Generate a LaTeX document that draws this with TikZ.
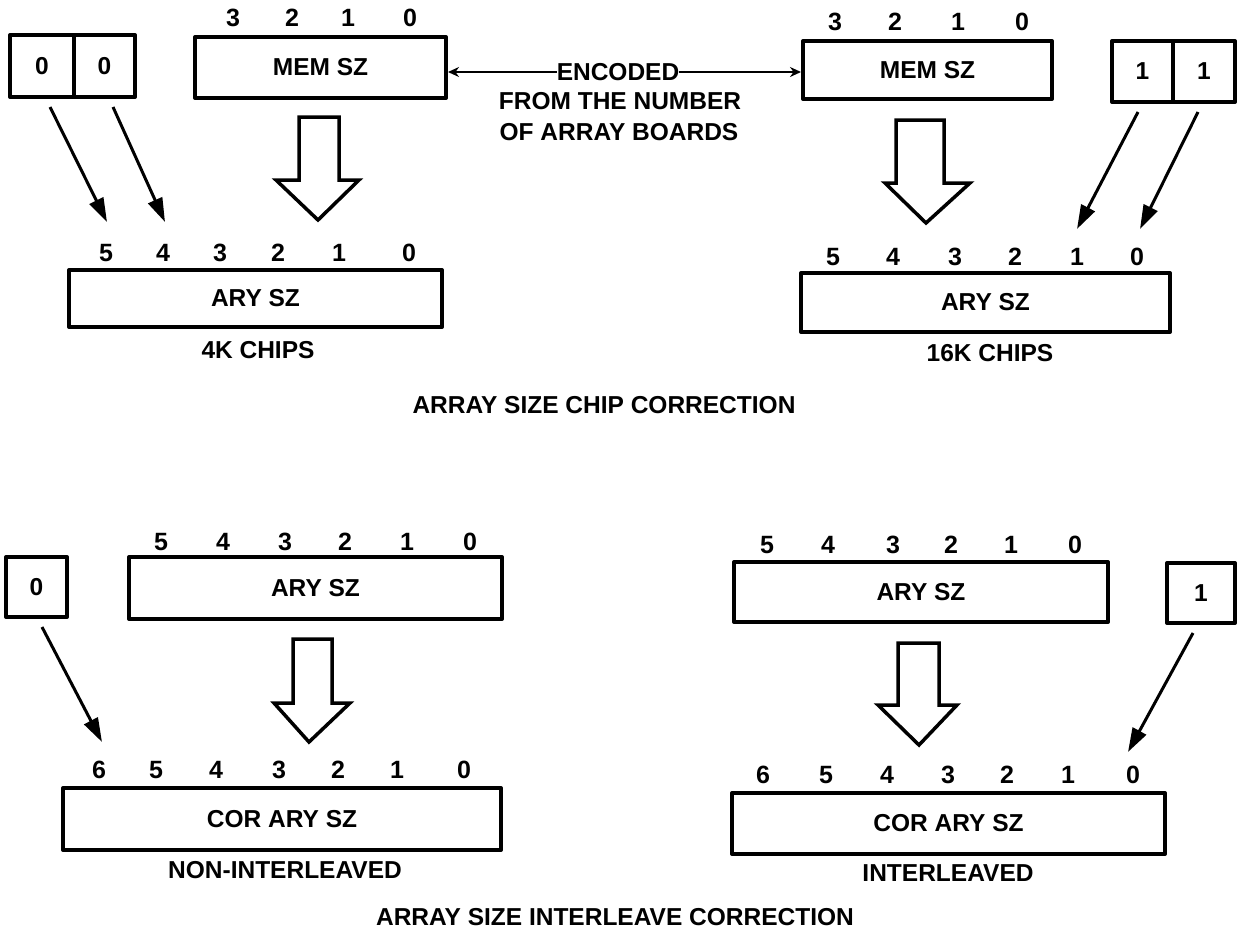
\documentclass[tikz,border=0pt]{standalone}
\usepackage{fontspec}
\setmainfont{Liberation Sans}
\usetikzlibrary{arrows.meta,calc}
\newcommand\lblfont{\fontsize{24.5}{28}\selectfont\bfseries}
\newcommand\digfont{\fontsize{25}{29}\selectfont\bfseries}
\begin{document}
\begin{tikzpicture}[x=1pt,y=-1pt,
  reg/.style={draw,line width=4pt,inner sep=0pt,font=\lblfont,line join=round},
  dig/.style={inner sep=0pt,font=\digfont},
  lab/.style={inner sep=0pt,font=\lblfont},
  arr/.style={line width=3pt,-{Triangle[length=24pt,width=15pt]}},
  encarr/.style={line width=2.5pt,-{Stealth[length=11pt,width=10pt]}},
  hollow/.style={draw,line width=3.5pt,line join=miter,fill=white}]
\useasboundingbox (0,0) rectangle (1237,930);

% ---------- top left ----------
\node[reg,minimum width=64,minimum height=62] (z1) at (42,66) {0};
\node[reg,minimum width=61,minimum height=62] (z2) at (104.5,66) {0};
\node[reg,minimum width=251,minimum height=61] (memL) at (320.5,67.5) {MEM SZ};
\foreach \n/\x in {3/233,2/292,1/348,0/410} \node[dig] (mL\n) at (\x,18) {\n};

\draw[hollow] (299,117) -- (339,117) -- (339,180) -- (359,180) -- (318,220) -- (276,180) -- (299,180) -- cycle;

\node[reg,minimum width=373,minimum height=57] (aryL) at (255.5,298.5) {ARY SZ};
\foreach \n/\x in {5/106,4/163,3/220,2/278,1/339,0/409} \node[dig] (aL\n) at (\x,253) {\n};
\node[lab] (chip4) at (258,350) {4K CHIPS};

\coordinate (s1) at (50,107); \coordinate (e1) at (107,222);
\coordinate (s2) at (113,107); \coordinate (e2) at (165,222);
\draw[arr] (s1) -- (e1);
\draw[arr] (s2) -- (e2);

% ---------- encoded ----------
\node[lab] (enc) at (618,72) {ENCODED};
\node[lab] (enc2) at (620,101) {FROM THE NUMBER};
\node[lab] (enc3) at (619,132) {OF ARRAY BOARDS};

% ---------- top right ----------
\node[reg,minimum width=249,minimum height=58] (memR) at (927.5,70) {MEM SZ};
\foreach \n/\x in {3/835,2/895,1/958,0/1022} \node[dig] (mR\n) at (\x,22) {\n};
\node[reg,minimum width=61,minimum height=61] (o1) at (1142.5,71.5) {1};
\node[reg,minimum width=62,minimum height=61] (o2) at (1204,71.5) {1};

\draw[encarr] (enc.west) -- (enc.west -| memL.east);
\draw[encarr] (enc.east) -- (enc.east -| memR.west);

\draw[hollow] (896,120) -- (944,120) -- (944,183) -- (970,183) -- (926,223) -- (885,183) -- (896,183) -- cycle;

\node[reg,minimum width=369,minimum height=59] (aryR) at (985.5,302.5) {ARY SZ};
\foreach \n/\x in {5/833,4/893,3/955,2/1015,1/1077,0/1137} \node[dig] (aR\n) at (\x,257) {\n};
\node[lab] (chip16) at (990,353) {16K CHIPS};

\coordinate (s3) at (1138,112); \coordinate (e3) at (1077,229);
\coordinate (s4) at (1198,112); \coordinate (e4) at (1140,229);
\draw[arr] (s3) -- (e3);
\draw[arr] (s4) -- (e4);

\node[lab] (title1) at (604,405) {ARRAY SIZE CHIP CORRECTION};

% ---------- bottom left ----------
\node[reg,minimum width=61,minimum height=60] (zb) at (36.5,587) {0};
\node[reg,minimum width=373,minimum height=62] (aryBL) at (315.5,588) {ARY SZ};
\foreach \n/\x in {5/161,4/223,3/285,2/345,1/407,0/470} \node[dig] (bL\n) at (\x,542) {\n};
\draw[hollow] (293,639) -- (332,639) -- (332,703) -- (350,703) -- (309,742) -- (274,703) -- (293,703) -- cycle;
\coordinate (s5) at (42,627); \coordinate (e5) at (102,742);
\draw[arr] (s5) -- (e5);

\node[reg,minimum width=438,minimum height=62] (corL) at (282,819) {COR ARY SZ};
\foreach \n/\x in {6/99,5/156,4/216,3/279,2/338,1/397,0/464} \node[dig] (cL\n) at (\x,770) {\n};
\node[lab] (nonint) at (285,870) {NON-INTERLEAVED};

% ---------- bottom right ----------
\node[reg,minimum width=374,minimum height=60] (aryBR) at (921,592) {ARY SZ};
\foreach \n/\x in {5/767,4/828,3/893,2/951,1/1011,0/1075} \node[dig] (bR\n) at (\x,545) {\n};
\node[reg,minimum width=68,minimum height=60] (one) at (1201,593) {1};
\draw[hollow] (898,643) -- (939,643) -- (939,705) -- (957,705) -- (919,745) -- (878,705) -- (898,705) -- cycle;
\coordinate (s6) at (1193,633); \coordinate (e6) at (1128,752);
\draw[arr] (s6) -- (e6);

\node[reg,minimum width=433,minimum height=61] (corR) at (948.5,823.5) {COR ARY SZ};
\foreach \n/\x in {6/763,5/826,4/887,3/948,2/1007,1/1068,0/1133} \node[dig] (cR\n) at (\x,775) {\n};
\node[lab] (inter) at (948,873) {INTERLEAVED};

\node[lab] (title2) at (615,917) {ARRAY SIZE INTERLEAVE CORRECTION};
\end{tikzpicture}
\end{document}
